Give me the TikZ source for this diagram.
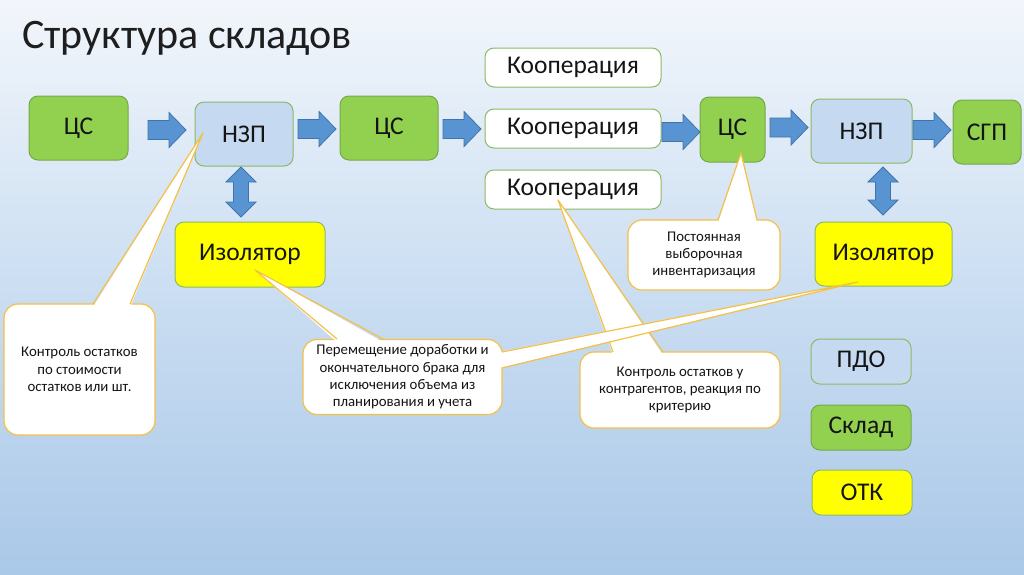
\documentclass[tikz,border=0pt]{standalone}
\usepackage{fontspec}
\setmainfont{Carlito}
\usetikzlibrary{calc}
\definecolor{grfill}{RGB}{146,208,80}
\definecolor{grline}{RGB}{118,168,72}
\definecolor{blfill}{RGB}{197,217,241}
\definecolor{bxline}{RGB}{140,185,100}
\definecolor{yel}{RGB}{255,255,0}
\definecolor{arrfill}{RGB}{88,148,210}
\definecolor{arrline}{RGB}{66,114,172}
\definecolor{calline}{RGB}{245,192,70}
\definecolor{bgtop}{RGB}{242,246,251}
\definecolor{bgmid}{RGB}{203,222,242}
\definecolor{bgbot}{RGB}{170,200,232}
\definecolor{txt}{RGB}{20,20,20}
\definecolor{ttl}{RGB}{30,30,30}
\tikzset{
  box/.style={draw=bxline, line width=1pt, rounded corners=9pt, inner sep=0pt,
    text=txt, font=\fontsize{25.5}{30}\selectfont},
  grbox/.style={box, fill=grfill, draw=grline},
  blbox/.style={box, fill=blfill},
  whbox/.style={box, fill=white},
  yebox/.style={box, fill=yel},
  barrow/.style={fill=arrfill, draw=arrline, line width=0.8pt},
  callbox/.style={draw=calline, fill=white, line width=1.2pt, rounded corners=14pt, inner sep=0pt,
    align=center, text=txt, font=\fontsize{14.8}{17.3}\selectfont},
  calline/.style={draw=calline, line width=1.2pt},
}
\newcommand\hArrow[3]{\draw[barrow] (#1,#3-9.5) -- (#2-17,#3-9.5) -- (#2-17,#3-17.5) -- (#2,#3) -- (#2-17,#3+17.5) -- (#2-17,#3+9.5) -- (#1,#3+9.5) -- cycle;}
\newcommand\vArrow[3]{\draw[barrow] (#1,#2) -- (#1+15,#2+15) -- (#1+7.5,#2+15) -- (#1+7.5,#3-15) -- (#1+15,#3-15) -- (#1,#3) -- (#1-15,#3-15) -- (#1-7.5,#3-15) -- (#1-7.5,#2+15) -- (#1-15,#2+15) -- cycle;}
% callout pointer: base point 1, base point 2, tip, inward offset vector
\newcommand\pointer[4]{%
  \fill[white] ($(#1)+(#4)$) -- (#3) -- ($(#2)+(#4)$) -- cycle;
  \draw[calline, line join=round] (#1) -- (#3) -- (#2);}
\begin{document}
\begin{tikzpicture}[x=1pt,y=-1pt]
\shade[top color=bgtop, bottom color=bgbot, middle color=bgmid] (0,0) rectangle (1024,574);
\useasboundingbox (0,0) rectangle (1024,574);

\node[anchor=base west, inner sep=0pt, text=ttl, font=\fontsize{42}{48}\selectfont] (title) at (22,48) {Структура складов};

% main chain
\node[grbox, minimum width=99pt, minimum height=64pt] (cs1) at (78.5,128) {ЦС};
\node[blbox, minimum width=98pt, minimum height=64pt] (nzp1) at (244,134) {НЗП};
\node[grbox, minimum width=98pt, minimum height=64pt] (cs2) at (389,128) {ЦС};
\node[whbox, minimum width=176pt, minimum height=39pt] (k1) at (573,67.5) {Кооперация};
\node[whbox, minimum width=176pt, minimum height=39pt] (k2) at (573,128.5) {Кооперация};
\node[whbox, minimum width=176pt, minimum height=39pt] (k3) at (573,189.5) {Кооперация};
\node[grbox, minimum width=65pt, minimum height=65pt] (cs3) at (732.5,129.5) {ЦС};
\node[blbox, minimum width=101pt, minimum height=64pt] (nzp2) at (861.5,131) {НЗП};
\node[grbox, minimum width=68pt, minimum height=64pt] (sgp) at (987,132) {СГП};
\node[yebox, minimum width=150pt, minimum height=65pt] (iso1) at (250,254.5) {Изолятор};
\node[yebox, minimum width=137pt, minimum height=64pt] (iso2) at (883.5,254) {Изолятор};

% legend
\node[blbox, minimum width=100pt, minimum height=45pt] (pdo) at (861,361.5) {ПДО};
\node[grbox, minimum width=100pt, minimum height=45pt] (sklad) at (861,427.5) {Склад};
\node[yebox, minimum width=100pt, minimum height=45pt] (otk) at (862,492.5) {ОТК};

% block arrows
\hArrow{148}{186}{130}
\hArrow{298}{336}{129}
\hArrow{443}{481}{129}
\hArrow{662}{700}{132}
\hArrow{770}{808}{127.5}
\hArrow{913}{951}{130}
\vArrow{241}{167}{217}
\vArrow{883}{167}{215}

% callouts
\node[callbox, minimum width=151pt, minimum height=131pt] (c1) at (79.5,369.5)
  {Контроль остатков\\по стоимости\\остатков или шт.};
\coordinate (c1a) at (93,304); \coordinate (c1b) at (130,304); \coordinate (c1t) at (203,133);
\pointer{c1a}{c1b}{c1t}{0,3}

\node[callbox, minimum width=152pt, minimum height=70pt] (c3) at (704,255)
  {Постоянная\\выборочная\\инвентаризация};
\coordinate (c3a) at (718,220); \coordinate (c3b) at (757,220); \coordinate (c3t) at (741,153);
\pointer{c3a}{c3b}{c3t}{0,3}

\node[callbox, minimum width=200pt, minimum height=76pt] (c4) at (680,390)
  {Контроль остатков у\\контрагентов, реакция по\\критерию};
\coordinate (c4a) at (613,352); \coordinate (c4b) at (663,352); \coordinate (c4t) at (558,200);
\pointer{c4a}{c4b}{c4t}{0,3}

\node[callbox, minimum width=199pt, minimum height=75pt] (c2) at (402.5,377)
  {Перемещение доработки и\\окончательного брака для\\исключения объема из\\планирования и учета};
\coordinate (c2a) at (337,339); \coordinate (c2b) at (383,339); \coordinate (c2t) at (255,270);
\pointer{c2a}{c2b}{c2t}{0,3}
\coordinate (c2c) at (502,352); \coordinate (c2d) at (502,368); \coordinate (c2u) at (858,282);
\pointer{c2c}{c2d}{c2u}{-3,0}
\end{tikzpicture}
\end{document}
